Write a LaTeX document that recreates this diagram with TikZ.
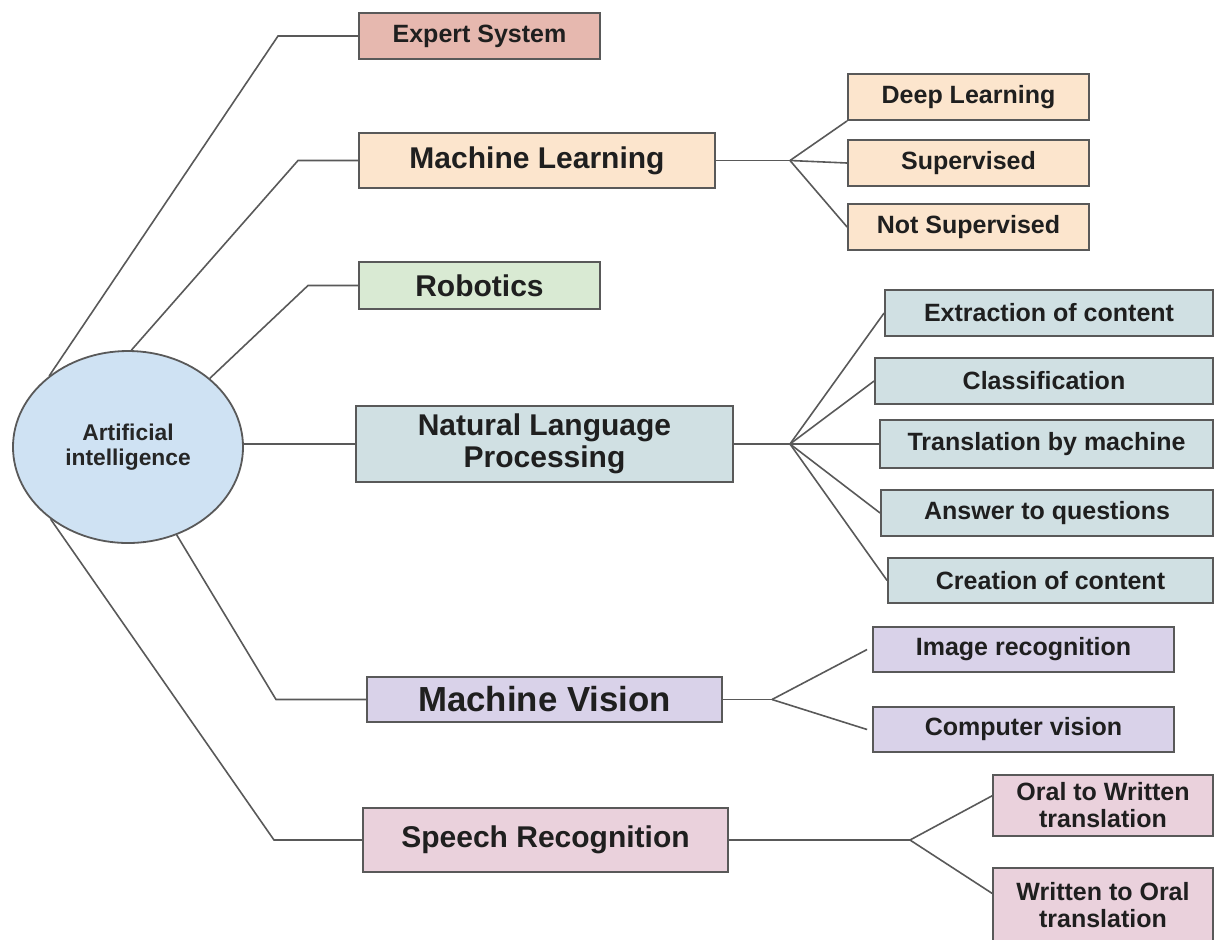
\documentclass[tikz,border=0pt]{standalone}
\usepackage{fontspec}
\setmainfont{Liberation Sans}
\usetikzlibrary{shapes.geometric}

\definecolor{aiblue}{HTML}{CFE2F3}
\definecolor{esred}{HTML}{E6B8AF}
\definecolor{mlpeach}{HTML}{FCE5CD}
\definecolor{robgreen}{HTML}{D9EAD3}
\definecolor{nlpcyan}{HTML}{D0E0E3}
\definecolor{mvpurple}{HTML}{D9D2E9}
\definecolor{srpink}{HTML}{EAD1DC}
\definecolor{edgegray}{HTML}{595959}

\begin{document}
\begin{tikzpicture}[x=0.5pt,y=-0.5pt,
    box/.style={draw=edgegray, line width=0.9pt, inner sep=0pt, align=center, text=black!88},
    wh/.style 2 args={minimum width=#1*0.5pt, minimum height=#2*0.5pt},
    huge topic/.style={box, font=\bfseries\fontsize{17.4}{19}\selectfont},
    topic/.style={box, font=\bfseries\fontsize{15}{16}\selectfont},
    leaf/.style={box, font=\bfseries\fontsize{12.5}{13.5}\selectfont},
    link/.style={draw=edgegray, line width=0.8pt}]
    \useasboundingbox (0,0) rectangle (1215,939);

    % centre of the map
    \node[ellipse, draw=edgegray, line width=0.9pt, fill=aiblue, inner sep=0pt, wh={230}{192},
          align=center, text=black!85, font=\bfseries\fontsize{11.4}{12.5}\selectfont]
          (ai) at (128,447) {Artificial\\intelligence};

    % main branches
    \node[leaf, fill=esred, wh={241}{46}] (es) at (479.5,36) {Expert System};
    \node[topic, fill=mlpeach, wh={356}{55}] (ml) at (537,160.5) {Machine Learning};
    \node[topic, fill=robgreen, wh={241}{47}] (rob) at (479.5,285.5) {Robotics};
    \node[topic, fill=nlpcyan, wh={377}{76}] (nlp) at (544.5,444) {Natural Language\\Processing};
    \node[huge topic, fill=mvpurple, wh={355}{45}] (mv) at (544.5,699.5) {Machine Vision};
    \node[topic, fill=srpink, wh={365}{64}] (sr) at (545.5,840) {Speech Recognition};

    % machine learning
    \node[leaf, fill=mlpeach, wh={241}{46}] (dl) at (968.5,97) {Deep Learning};
    \node[leaf, fill=mlpeach, wh={241}{46}] (sup) at (968.5,163) {Supervised};
    \node[leaf, fill=mlpeach, wh={241}{46}] (nsup) at (968.5,227) {Not Supervised};

    % language processing
    \node[leaf, fill=nlpcyan, wh={328}{46}] (ext) at (1049,313) {Extraction of content};
    \node[leaf, fill=nlpcyan, wh={338}{46}] (cls) at (1044,381) {Classification};
    \node[leaf, fill=nlpcyan, wh={333}{48}] (tbm) at (1046.5,444) {Translation by machine};
    \node[leaf, fill=nlpcyan, wh={332}{46}] (atq) at (1047,513) {Answer to questions};
    \node[leaf, fill=nlpcyan, wh={325}{45}] (coc) at (1050.5,580.5) {Creation of content};

    % vision
    \node[leaf, fill=mvpurple, wh={301}{45}] (imr) at (1023.5,649.5) {Image recognition};
    \node[leaf, fill=mvpurple, wh={301}{45}] (cv) at (1023.5,729.5) {Computer vision};

    % speech
    \node[leaf, fill=srpink, wh={220}{61}] (o2w) at (1103,805.5) {Oral to Written\\translation};
    \node[leaf, fill=srpink, wh={220}{74}] (w2o) at (1103,905) {Written to Oral\\translation};

    % branch points
    \coordinate (mlj) at (790,160.5);
    \coordinate (nlpj) at (790,444);
    \coordinate (mvj) at (772,699.5);
    \coordinate (srj) at (910,840);

    % ellipse to main branches
    \draw[link] (ai.138) -- (278,0 |- es.west) -- (es.west);
    \draw[link] (ai.88) -- (298,0 |- ml.west) -- (ml.west);
    \draw[link] (ai.40) -- (308,0 |- rob.west) -- (rob.west);
    \draw[link] (ai.east |- nlp.west) -- (nlp.west);
    \draw[link] (ai.-61) -- (276,0 |- mv.west) -- (mv.west);
    \draw[link] (ai.-137) -- (274,0 |- sr.west) -- (sr.west);

    % fans to the leaves
    \draw[link] (ml.east) -- (mlj);
    \draw[link] (mlj) -- (dl.south west);
    \draw[link] (mlj) -- (sup.west);
    \draw[link] (mlj) -- (nsup.west);
    \draw[link] (nlp.east) -- (nlpj);
    \foreach \leafname in {ext,cls,tbm,atq,coc}
        \draw[link] (nlpj) -- (\leafname.west);
    \draw[link] (mv.east) -- (mvj);
    \draw[link] (mvj) -- ([xshift=-2.5pt]imr.west);
    \draw[link] (mvj) -- ([xshift=-2.5pt]cv.west);
    \draw[link] (sr.east) -- (srj);
    \draw[link] (srj) -- (o2w.175);
    \draw[link] (srj) -- (w2o.174);
\end{tikzpicture}
\end{document}
